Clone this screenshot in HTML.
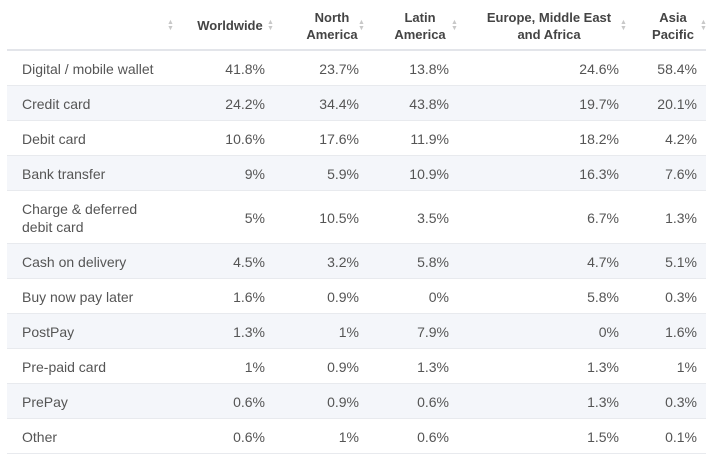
<!DOCTYPE html>
<html><head><style>
body{margin:0;width:714px;height:456px;background:#fff;font-family:"Liberation Sans",sans-serif;position:relative;overflow:hidden}
.h{position:absolute;font-weight:bold;font-size:13px;color:#444;text-align:center;line-height:17px}
.s{position:absolute;width:7px;color:#c8c8c8;font-size:7px;line-height:6px;text-align:center}
.row{position:absolute;left:7px;width:699px;border-bottom:1px solid #e8eaee}
.alt{background:#f4f6fa}
.c{position:absolute;font-size:14px;color:#555;line-height:18px}
.v{text-align:right}
</style></head><body>
<div style="position:absolute;left:7px;top:49px;width:699px;height:2px;background:#e3e5ea"></div>
<div class="h" style="left:190px;top:17px;width:80px">Worldwide</div>
<div class="h" style="left:292px;top:9px;width:80px">North<br>America</div>
<div class="h" style="left:380px;top:9px;width:80px">Latin<br>America</div>
<div class="h" style="left:479px;top:9px;width:140px">Europe, Middle East<br>and Africa</div>
<div class="h" style="left:643px;top:9px;width:60px">Asia<br>Pacific</div>
<div class="s" style="left:167px;top:20px">▲<br>▼</div>
<div class="s" style="left:267px;top:20px">▲<br>▼</div>
<div class="s" style="left:358px;top:20px">▲<br>▼</div>
<div class="s" style="left:451px;top:20px">▲<br>▼</div>
<div class="s" style="left:620px;top:20px">▲<br>▼</div>
<div class="s" style="left:700px;top:20px">▲<br>▼</div>
<div id="t"></div>
<script>
var d=[["Digital / mobile wallet","41.8%","23.7%","13.8%","24.6%","58.4%"],
["Credit card","24.2%","34.4%","43.8%","19.7%","20.1%"],
["Debit card","10.6%","17.6%","11.9%","18.2%","4.2%"],
["Bank transfer","9%","5.9%","10.9%","16.3%","7.6%"],
["Charge &amp; deferred<br>debit card","5%","10.5%","3.5%","6.7%","1.3%"],
["Cash on delivery","4.5%","3.2%","5.8%","4.7%","5.1%"],
["Buy now pay later","1.6%","0.9%","0%","5.8%","0.3%"],
["PostPay","1.3%","1%","7.9%","0%","1.6%"],
["Pre-paid card","1%","0.9%","1.3%","1.3%","1%"],
["PrePay","0.6%","0.9%","0.6%","1.3%","0.3%"],
["Other","0.6%","1%","0.6%","1.5%","0.1%"]];
var R=[265,359,449,619,697],y=51,h="";
d.forEach(function(r,i){var H=i==4?53:35;
h+='<div class="row'+(i%2?' alt':'')+'" style="top:'+y+'px;height:'+(H-1)+'px"></div>';
var cy=y+H/2;
h+='<div class="c" style="left:22px;top:'+(cy-(i==4?18:9))+'px">'+r[0]+'</div>';
for(var k=0;k<5;k++)h+='<div class="c v" style="left:'+(R[k]-80)+'px;width:80px;top:'+(cy-9)+'px">'+r[k+1]+'</div>';
y+=H;});
document.getElementById('t').innerHTML=h;
</script>
</body></html>
